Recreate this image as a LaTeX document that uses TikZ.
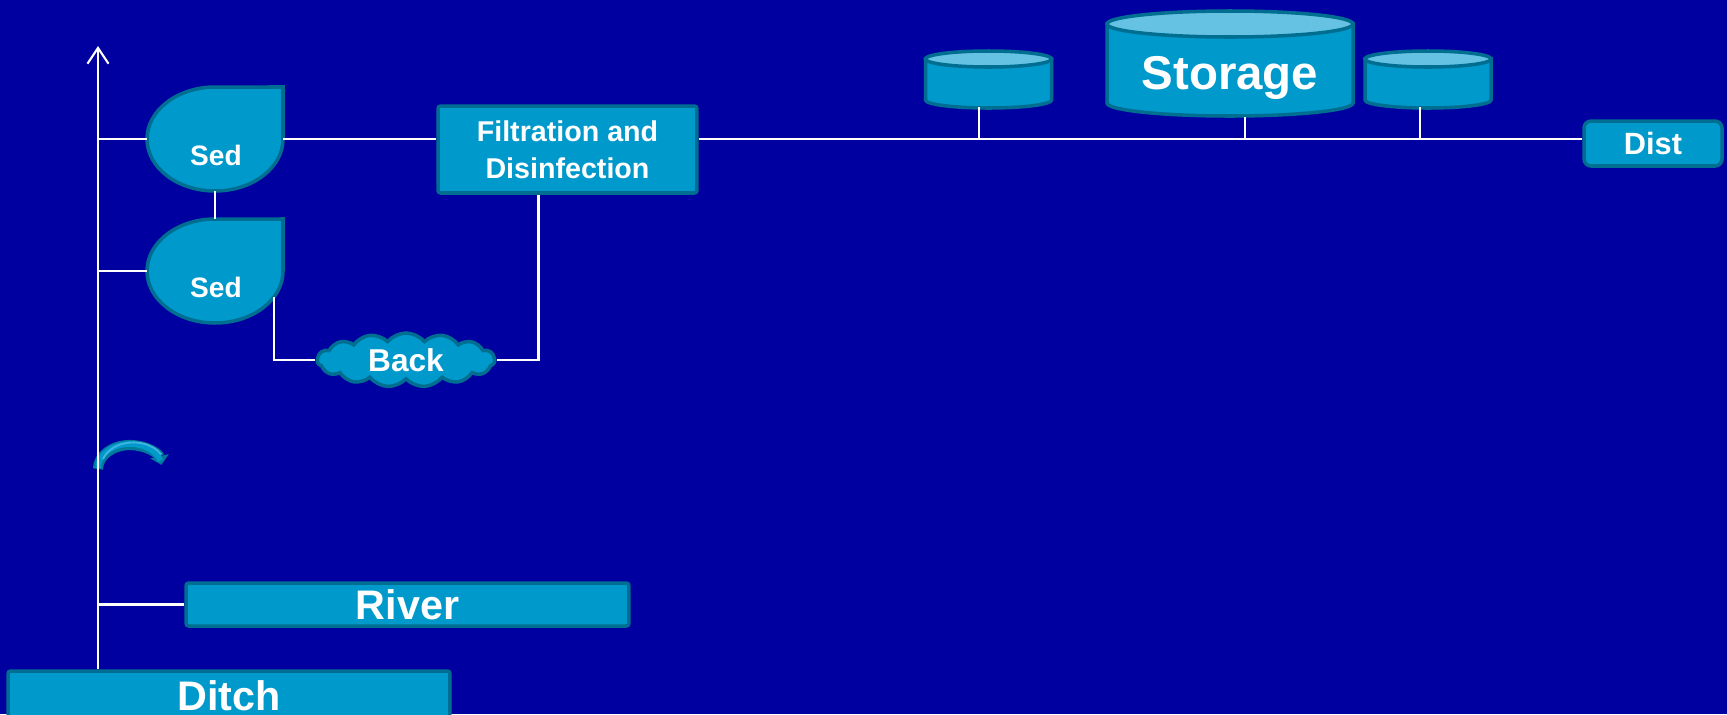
\documentclass[tikz,border=0pt]{standalone}
\usepackage{fontspec}
\setmainfont{Liberation Sans}
\usetikzlibrary{shapes.symbols,shapes.geometric,arrows.meta,calc}
\definecolor{bg}{HTML}{0000A0}
\definecolor{boxfill}{HTML}{0099CC}
\definecolor{boxline}{HTML}{006E91}
\definecolor{tanktop}{HTML}{66C2E2}
\definecolor{archi}{HTML}{40B4E0}
\definecolor{arcline}{HTML}{007A9A}
\newcommand{\drawtank}[5]{%
  \path[tankbody] (#1-#2,#3) -- (#1-#2,#4) arc[start angle=180,end angle=360,x radius=#2*0.02cm,y radius=#5*0.02cm] -- (#1+#2,#3) -- cycle;
  \path[tanktopst] (#1,#3) ellipse[x radius=#2*0.02cm,y radius=#5*0.02cm];}
\newcommand{\drawsed}[2]{%
  \path[sedbody] (#1+68,#2-52) -- (#1+68,#2) arc[start angle=0,end angle=-270,x radius=1.36cm,y radius=1.04cm] -- cycle;}
\begin{document}
\begin{tikzpicture}[x=0.02cm,y=-0.02cm,
  wire/.style={draw=white, line width=1.2pt},
  box/.style={draw=boxline, fill=boxfill, line width=2pt, rounded corners=1.5pt, inner sep=0, text=white},
  sedbody/.style={draw=boxline, fill=boxfill, line width=2pt},
  tankbody/.style={draw=boxline, fill=boxfill, line width=2pt},
  tanktopst/.style={draw=boxline, fill=tanktop, line width=2pt},
  ghost/.style={draw=none, inner sep=0},
  lbl/.style={text=white, inner sep=0}]
\fill[bg] (0,0) rectangle (1727,714);
\useasboundingbox (0,0) rectangle (1727,714);
\clip (0,0) rectangle (1727,714);

% sedimentation basins
\drawsed{215}{139}
\drawsed{215}{271}
\node[ghost, ellipse, minimum width=2.72cm, minimum height=2.08cm] (sed1) at (215,139) {};
\node[ghost, ellipse, minimum width=2.72cm, minimum height=2.08cm] (sed2) at (215,271) {};
\node[lbl, font=\fontsize{16}{19}\selectfont\bfseries] (sed1t) at (216,155) {Sed};
\node[lbl, font=\fontsize{16}{19}\selectfont\bfseries] (sed2t) at (216,287) {Sed};

% filtration
\node[box, minimum width=5.18cm, minimum height=1.74cm, align=center,
      font=\fontsize{16.3}{21}\selectfont\bfseries] (filt) at (567.5,149.5) {Filtration and\\Disinfection};

% backwash cloud
\node[cloud, cloud puffs=15, cloud puff arc=100, cloud ignores aspect, draw=boxline, fill=boxfill,
      line width=2pt, minimum width=3.55cm, minimum height=1.08cm, inner sep=0, text=white,
      font=\fontsize{18}{21}\selectfont\bfseries] (back) at (406,360) {Back};

% tanks
\drawtank{988.5}{63}{59}{100}{8}
\drawtank{1230}{123}{24}{103}{13}
\drawtank{1428}{63}{59}{100}{8}
\node[ghost, minimum width=2.52cm, minimum height=1.12cm] (tank1) at (988.5,79) {};
\node[ghost, minimum width=4.92cm, minimum height=2.12cm] (storage) at (1230,64) {};
\node[ghost, minimum width=2.52cm, minimum height=1.12cm] (tank2) at (1428,79) {};
\node[lbl, font=\fontsize{27}{32}\selectfont\bfseries] (stortxt) at (1230,78) {Storage};

% distribution
\node[box, rounded corners=4pt, minimum width=2.76cm, minimum height=0.9cm,
      font=\fontsize{17.5}{21}\selectfont\bfseries] (dist) at (1653,143.5) {Dist};

% sources
\node[box, minimum width=8.86cm, minimum height=0.86cm,
      font=\fontsize{23.5}{28}\selectfont\bfseries] (river) at (407.5,604.5) {River};
\node[box, minimum width=8.84cm, minimum height=1.0cm,
      font=\fontsize{23.5}{28}\selectfont\bfseries] (ditch) at (229,696) {Ditch};

% pump arrow
\draw[draw=arcline, line width=5.8pt, -{Triangle[length=5pt,width=10.5pt]}]
  (98,469) arc[start angle=180,end angle=10,x radius=0.64cm,y radius=0.48cm];
\draw[draw=boxfill, line width=3.2pt]
  (98,468) arc[start angle=180,end angle=18,x radius=0.64cm,y radius=0.48cm];
\draw[draw=archi, line width=1.1pt]
  (103,459) arc[start angle=162,end angle=30,x radius=0.64cm,y radius=0.48cm];

% connectors
\coordinate (arrtop) at (98,46);
\draw[wire, -{Straight Barb[length=9pt,width=12pt]}] (ditch.north -| arrtop) -- (arrtop);
\draw[wire] (sed1.west) -- (sed1.west -| arrtop);
\draw[wire] (sed2.west) -- (sed2.west -| arrtop);
\draw[wire] (river.west) -- (river.west -| arrtop);
\draw[wire] (sed1.east) -- (filt.west |- sed1.east);
\draw[wire] (sed1.south) -- (sed2.north);
\draw[wire] (sed2.-24) |- (back.west);
\draw[wire] (back.east) -| ([xshift=-0.58cm]filt.south);
\draw[wire] (filt.east |- sed1.east) -- (dist.west |- sed1.east);
\draw[wire] ([xshift=-0.19cm]tank1.south) -- ([xshift=-0.19cm]tank1.south |- sed1.east);
\draw[wire] ([xshift=0.3cm]storage.south) -- ([xshift=0.3cm]storage.south |- sed1.east);
\draw[wire] ([xshift=-0.16cm]tank2.south) -- ([xshift=-0.16cm]tank2.south |- sed1.east);
\end{tikzpicture}
\end{document}
